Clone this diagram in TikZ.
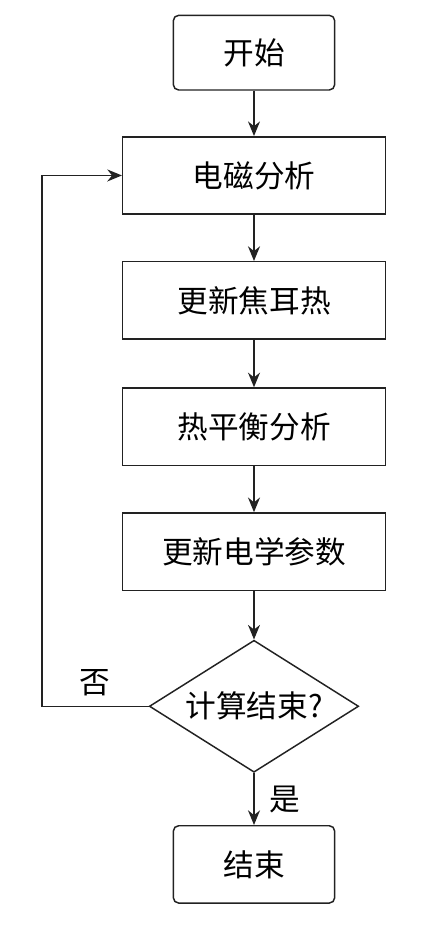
\documentclass[tikz,border=0pt]{standalone}
\usepackage{fontspec}
\newfontfamily\cjk{Noto Sans CJK SC}
\usetikzlibrary{arrows.meta,positioning,shapes.geometric}
\definecolor{lineblack}{RGB}{34,34,34}

\begin{document}
\begin{tikzpicture}[
  node distance=34.6pt,
  font=\cjk\fontsize{23}{27}\selectfont,
  box/.style={draw=lineblack, line width=1.1pt, minimum width=197pt, minimum height=58pt, align=center, fill=white},
  terminal/.style={draw=lineblack, line width=1.1pt, rounded corners=4pt, minimum width=121pt, minimum height=56pt, align=center, fill=white},
  decision/.style={draw=lineblack, line width=1.1pt, diamond, aspect=1.58, inner sep=1pt, minimum width=157pt, minimum height=99pt, align=center, fill=white},
  line/.style={draw=lineblack, line width=1.1pt},
  >={Stealth[length=11pt,width=9pt]}
]
\useasboundingbox (0,0) rectangle (318pt,-697.5pt);
\node[terminal] (start) at (190.5pt,-39.5pt) {开始};
\node[box, below=34pt of start] (em) {电磁分析};
\node[box, below=of em] (joule) {更新焦耳热};
\node[box, below=35.6pt of joule] (thermal) {热平衡分析};
\node[box, below=of thermal] (param) {更新电学参数};
\node[decision, below=36.4pt of param] (check) {计算结束?};
\node[terminal, below=39pt of check, minimum height=58pt] (stop) {结束};
\draw[line,->] (start) -- (em);
\draw[line,->] (em) -- (joule);
\draw[line,->] (joule) -- (thermal);
\draw[line,->] (thermal) -- (param);
\draw[line,->] (param) -- (check);
\draw[line,->] (check) -- node[right, xshift=8pt] {是} (stop);
\draw[line,->] (check.west) -| node[pos=0.25, above, yshift=4pt] {否} ([xshift=-60pt]em.west) -- (em.west);
\end{tikzpicture}
\end{document}
